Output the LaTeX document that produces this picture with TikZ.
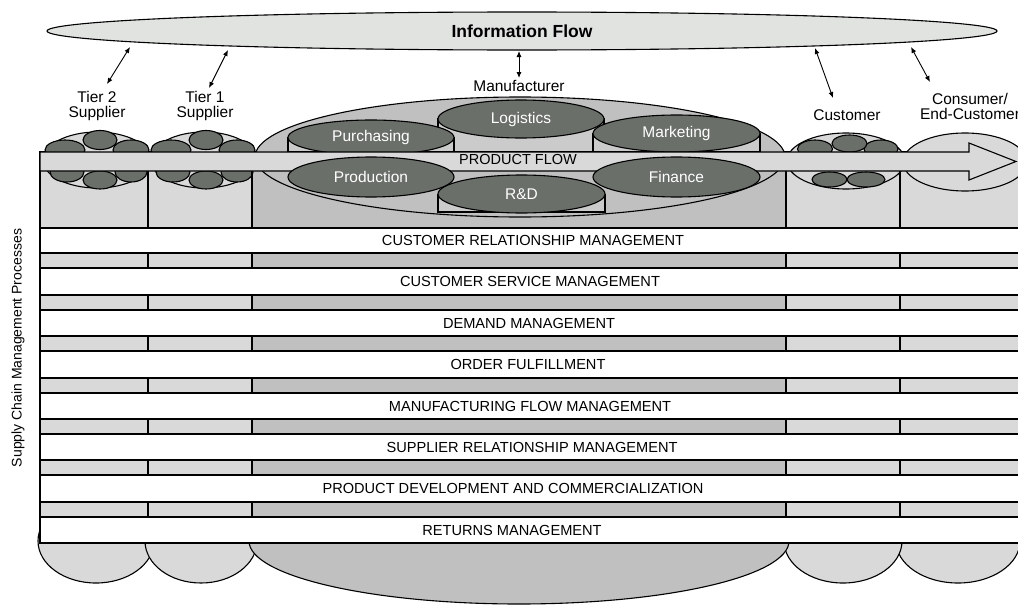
\documentclass[tikz,border=0pt]{standalone}
\usepackage{fontspec}
\setmainfont{Liberation Sans}
\usetikzlibrary{arrows.meta,shapes.geometric}
\definecolor{lightg}{HTML}{D9D9D9}
\definecolor{midg}{HTML}{C0C0C0}
\definecolor{darkg}{HTML}{6A6F6A}
\definecolor{infog}{HTML}{E1E3E1}
\definecolor{cylg}{HTML}{CBCBCB}
\begin{document}
\begin{tikzpicture}[x=1pt,y=-1pt,line width=1.1pt,
  lbl/.style={font=\fontsize{15.5}{15}\selectfont,align=center,inner sep=0pt},
  rowlbl/.style={font=\fontsize{14.6}{15}\selectfont,inner sep=0pt},
  dkell/.style={ellipse,draw=black,fill=darkg,inner sep=0pt,text=white,font=\fontsize{15.5}{16}\selectfont},
  smell/.style={draw=black,fill=darkg},
  entell/.style={draw=black,fill=lightg},
  link/.style={line width=0.9pt,{Latex[length=6pt,width=5pt]}-{Latex[length=6pt,width=5pt]}},
]
\useasboundingbox (0,0) rectangle (1018,605);
\fill[white] (0,0) rectangle (1018,605);

% ---------- bottom bulges ----------
\filldraw[entell] (96,541) ellipse [x radius=58pt, y radius=42pt];
\filldraw[entell] (201,541) ellipse [x radius=56pt, y radius=42pt];
\filldraw[entell] (958,541) ellipse [x radius=62pt, y radius=42pt];
\filldraw[entell] (843,541) ellipse [x radius=59pt, y radius=42pt];
\filldraw[draw=black,fill=midg] (519,541) ellipse [x radius=270pt, y radius=63pt];

% ---------- process rows ----------
\foreach \t/\b in {228/253,268/295,310/336,351/378,393/419,434/460,475/502,517/543}
  \filldraw[fill=white] (40,\t) rectangle (1030,\b);
\foreach \t/\b in {253/268,295/310,336/351,378/393,419/434,460/475,502/517} {
  \filldraw[fill=lightg] (40,\t) rectangle (148,\b);
  \filldraw[fill=lightg] (148,\t) rectangle (252,\b);
  \filldraw[fill=midg] (252,\t) rectangle (786,\b);
  \filldraw[fill=lightg] (786,\t) rectangle (900,\b);
  \filldraw[fill=lightg] (900,\t) rectangle (1030,\b);
}
\node[rowlbl] (crm) at (533,240.5) {CUSTOMER RELATIONSHIP MANAGEMENT};
\node[rowlbl] (csm) at (530,281.5) {CUSTOMER SERVICE MANAGEMENT};
\node[rowlbl] (dm) at (529,323) {DEMAND MANAGEMENT};
\node[rowlbl] (of) at (528,364.5) {ORDER FULFILLMENT};
\node[rowlbl] (mfm) at (530,406) {MANUFACTURING FLOW MANAGEMENT};
\node[rowlbl] (srm) at (532,447) {SUPPLIER RELATIONSHIP MANAGEMENT};
\node[rowlbl] (pdc) at (513,488.5) {PRODUCT DEVELOPMENT AND COMMERCIALIZATION};
\node[rowlbl] (rm) at (512,530) {RETURNS MANAGEMENT};

% ---------- upper column boxes ----------
\filldraw[fill=lightg] (40,152) rectangle (148,228);
\filldraw[fill=lightg] (148,152) rectangle (252,228);
\filldraw[fill=midg] (252,152) rectangle (786,228);
\filldraw[fill=lightg] (786,152) rectangle (900,228);
\filldraw[fill=lightg] (900,152) rectangle (1030,228);

% ---------- manufacturer ----------
\filldraw[draw=black,fill=midg] (520,157) ellipse [x radius=265pt, y radius=60pt];
\filldraw[fill=cylg] (438,119) rectangle (604,152);
\node[dkell,minimum width=166pt,minimum height=38pt] (log) at (521,119) {Logistics};
\filldraw[fill=cylg] (288,137.5) rectangle (454,152);
\node[dkell,minimum width=166pt,minimum height=35pt] (pur) at (371,137.5) {Purchasing};
\filldraw[fill=cylg] (593,133.5) rectangle (760,152);
\node[dkell,minimum width=167pt,minimum height=37pt] (mkt) at (676.5,133.5) {Marketing};

% ---------- tier 2 supplier ----------
\filldraw[entell] (97,160) ellipse [x radius=54pt, y radius=28pt];
\filldraw[smell] (65,150) ellipse [x radius=20pt, y radius=10pt];
\filldraw[smell] (131,150) ellipse [x radius=18pt, y radius=10pt];
\filldraw[smell] (100,140) ellipse [x radius=17pt, y radius=9.5pt];
\filldraw[smell] (67,172) ellipse [x radius=17pt, y radius=10pt];
\filldraw[smell] (131,172) ellipse [x radius=16pt, y radius=10pt];
\filldraw[smell] (100,180) ellipse [x radius=17pt, y radius=9pt];
% ---------- tier 1 supplier ----------
\filldraw[entell] (204,160) ellipse [x radius=53pt, y radius=28pt];
\filldraw[smell] (171,150) ellipse [x radius=20pt, y radius=10pt];
\filldraw[smell] (237,150) ellipse [x radius=18pt, y radius=10pt];
\filldraw[smell] (206,140) ellipse [x radius=17pt, y radius=9.5pt];
\filldraw[smell] (173,172) ellipse [x radius=17pt, y radius=10pt];
\filldraw[smell] (237,172) ellipse [x radius=16pt, y radius=10pt];
\filldraw[smell] (206,180) ellipse [x radius=17pt, y radius=9pt];
% ---------- customer ----------
\filldraw[entell] (846,161) ellipse [x radius=59pt, y radius=28pt];
\filldraw[smell] (815,149) ellipse [x radius=17.5pt, y radius=9pt];
\filldraw[smell] (881,149) ellipse [x radius=17pt, y radius=9pt];
\filldraw[smell] (849.5,143.5) ellipse [x radius=17.5pt, y radius=8.5pt];
\filldraw[smell] (829.5,179.5) ellipse [x radius=17.5pt, y radius=7.5pt];
\filldraw[smell] (866,179.5) ellipse [x radius=19pt, y radius=7.5pt];
% ---------- consumer ----------
\filldraw[entell] (965,162) ellipse [x radius=62pt, y radius=29pt];

% column dividers
\foreach \x in {148,252,786,900} \draw (\x,171) -- (\x,228);

% ---------- product flow arrow ----------
\filldraw[fill=lightg] (40,152) -- (969,152) -- (969,143) -- (1016,161.5) -- (969,180) -- (969,171) -- (40,171) -- cycle;

% ---------- lower manufacturer functions ----------
\node[dkell,minimum width=166pt,minimum height=40pt] (prod) at (371,177) {Production};
\node[dkell,minimum width=167pt,minimum height=40pt] (fin) at (676.5,177) {Finance};
\filldraw[fill=cylg] (438,195) rectangle (605,212);
\node[dkell,minimum width=167pt,minimum height=38pt] (rd) at (521.5,194) {R\&D};
\node[font=\fontsize{14.5}{15}\selectfont,inner sep=0pt] (pf) at (518,160) {PRODUCT FLOW};

% ---------- information flow ----------
\node[ellipse,draw=black,fill=infog,minimum width=950pt,minimum height=38pt,inner sep=0pt,
      font=\fontsize{17.5}{18}\selectfont\bfseries] (info) at (522,31) {Information Flow};

% ---------- entity labels ----------
\node[lbl] (t2) at (97,105.5) {Tier 2\\Supplier};
\node[lbl] (t1) at (205,105.5) {Tier 1\\Supplier};
\node[lbl] (man) at (519,86) {Manufacturer};
\node[lbl] (cus) at (847,115) {Customer};
\node[lbl] (con) at (970,106) {Consumer/\\End-Customer};

% ---------- information links ----------
\coordinate (i1) at (130,47);  \coordinate (e1) at (107,84);
\coordinate (i2) at (228,50);  \coordinate (e2) at (209,88);
\coordinate (i3) at (519,51);  \coordinate (e3) at (519,78);
\coordinate (i4) at (815,48);  \coordinate (e4) at (833,98);
\coordinate (i5) at (911,47);  \coordinate (e5) at (930,82);
\foreach \n in {1,...,5} \draw[link] (i\n) -- (e\n);

% ---------- side label ----------
\node[rotate=90,font=\fontsize{14}{14}\selectfont,inner sep=0pt] (scmp) at (18,348) {Supply Chain Management Processes};
\end{tikzpicture}
\end{document}
